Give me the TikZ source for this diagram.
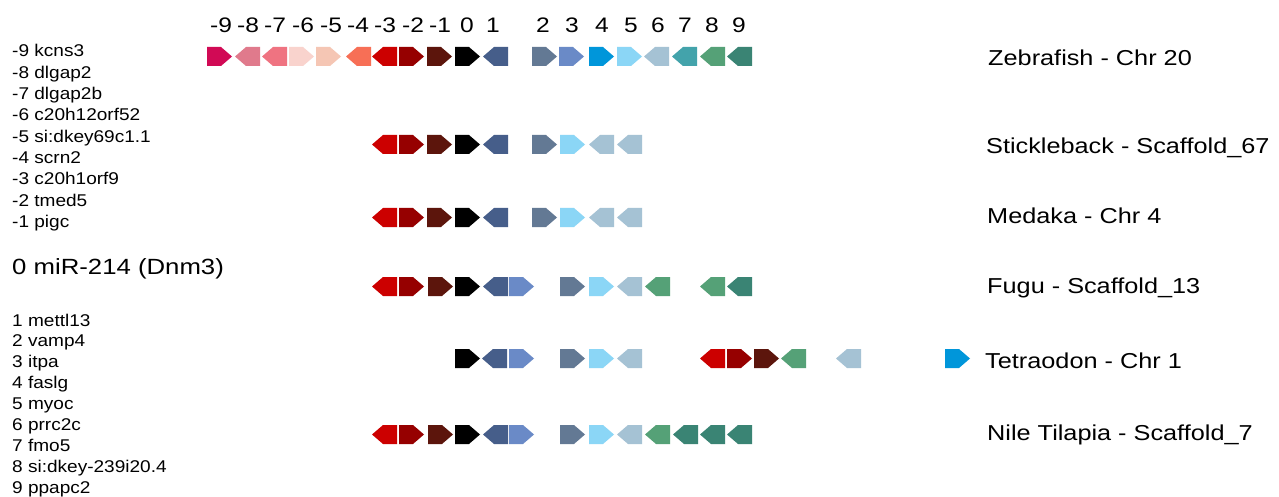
\documentclass[tikz,border=0pt]{standalone}
\usepackage{fontspec}
\setmainfont{Liberation Sans}
\newfontfamily\widefont[FakeStretch=1.17]{Liberation Sans}
\newfontfamily\listfont[FakeStretch=1.12]{Liberation Sans}
\definecolor{gm9}{HTML}{D10A55}
\definecolor{gm8}{HTML}{E07A8C}
\definecolor{gm7}{HTML}{EF7381}
\definecolor{gm6}{HTML}{F9D3CD}
\definecolor{gm5}{HTML}{F5C6B4}
\definecolor{gm4}{HTML}{F76F56}
\definecolor{gm3}{HTML}{CC0000}
\definecolor{gm2}{HTML}{960000}
\definecolor{gm1}{HTML}{5C150C}
\definecolor{g0}{HTML}{000000}
\definecolor{g1}{HTML}{465E8A}
\definecolor{g2}{HTML}{637994}
\definecolor{g3}{HTML}{6A8AC7}
\definecolor{g4}{HTML}{0096DA}
\definecolor{g5}{HTML}{8BD6F6}
\definecolor{g6}{HTML}{A5C2D4}
\definecolor{g7}{HTML}{43A3AB}
\definecolor{g8}{HTML}{55A177}
\definecolor{g9}{HTML}{3A8474}
% right-pointing gene: left edge x, centre y
\newcommand\gR[3]{\fill[#3] (#1,#2) ++(0,-9.5) -- ++(14,0) -- ++(11,9.5) -- ++(-11,9.5) -- ++(-14,0) -- cycle;}
% left-pointing gene: tip at x, centre y
\newcommand\gL[3]{\fill[#3] (#1,#2) -- ++(11,-9.5) -- ++(14,0) -- ++(0,19) -- ++(-14,0) -- cycle;}
\begin{document}
\begin{tikzpicture}[x=1pt,y=-1pt,
  numlbl/.style={font=\widefont\fontsize{21}{25}\selectfont, inner sep=0pt, anchor=base},
  sp/.style={font=\widefont\fontsize{21.6}{25}\selectfont, inner sep=0pt, anchor=base west},
  genelist/.style={font=\listfont\fontsize{17}{20}\selectfont, inner sep=0pt, anchor=base west},
  mirlbl/.style={font=\widefont\fontsize{22}{26}\selectfont, inner sep=0pt, anchor=base west}]
\useasboundingbox (0,0) rectangle (1279,497);
\fill[white] (0,0) rectangle (1279,497);
% position numbers
\node[numlbl] (nm9) at (221,33) {-9};
\node[numlbl] (nm8) at (248,33) {-8};
\node[numlbl] (nm7) at (275,33) {-7};
\node[numlbl] (nm6) at (303,33) {-6};
\node[numlbl] (nm5) at (331,33) {-5};
\node[numlbl] (nm4) at (358,33) {-4};
\node[numlbl] (nm3) at (385,33) {-3};
\node[numlbl] (nm2) at (413,33) {-2};
\node[numlbl] (nm1) at (440,33) {-1};
\node[numlbl] (n0) at (467,33) {0};
\node[numlbl] (n1) at (493,33) {1};
\node[numlbl] (n2) at (543,33) {2};
\node[numlbl] (n3) at (572,33) {3};
\node[numlbl] (n4) at (602,33) {4};
\node[numlbl] (n5) at (631,33) {5};
\node[numlbl] (n6) at (658,33) {6};
\node[numlbl] (n7) at (685,33) {7};
\node[numlbl] (n8) at (712,33) {8};
\node[numlbl] (n9) at (739,33) {9};
% Zebrafish
\def\y{56.5}
\gR{207}{\y}{gm9}\gL{235}{\y}{gm8}\gL{262}{\y}{gm7}\gR{289}{\y}{gm6}\gR{316}{\y}{gm5}
\gL{346}{\y}{gm4}\gL{372}{\y}{gm3}\gR{399}{\y}{gm2}\gR{427}{\y}{gm1}\gR{455}{\y}{g0}
\gL{483}{\y}{g1}\gR{532}{\y}{g2}\gR{559}{\y}{g3}\gR{589}{\y}{g4}\gR{617}{\y}{g5}
\gL{644}{\y}{g6}\gL{672}{\y}{g7}\gL{700}{\y}{g8}\gL{727}{\y}{g9}
% Stickleback
\def\y{144.5}
\gL{372}{\y}{gm3}\gR{399}{\y}{gm2}\gR{427}{\y}{gm1}\gR{455}{\y}{g0}\gL{483}{\y}{g1}
\gR{532}{\y}{g2}\gR{560}{\y}{g5}\gL{589}{\y}{g6}\gL{617}{\y}{g6}
% Medaka
\def\y{217.5}
\gL{372}{\y}{gm3}\gR{399}{\y}{gm2}\gR{427}{\y}{gm1}\gR{455}{\y}{g0}\gL{483}{\y}{g1}
\gR{532}{\y}{g2}\gR{560}{\y}{g5}\gL{589}{\y}{g6}\gL{617}{\y}{g6}
% Fugu
\def\y{286.5}
\gL{372}{\y}{gm3}\gR{399}{\y}{gm2}\gR{428}{\y}{gm1}\gR{455}{\y}{g0}\gL{483}{\y}{g1}
\gR{509}{\y}{g3}\gR{560}{\y}{g2}\gR{589}{\y}{g5}\gL{617}{\y}{g6}\gL{645}{\y}{g8}
\gL{700}{\y}{g8}\gL{727}{\y}{g9}
% Tetraodon
\def\y{358.5}
\gR{455}{\y}{g0}\gL{482}{\y}{g1}\gR{509}{\y}{g3}\gR{560}{\y}{g2}\gR{589}{\y}{g5}
\gL{617}{\y}{g6}\gL{700}{\y}{gm3}\gR{727}{\y}{gm2}\gR{754}{\y}{gm1}\gL{781}{\y}{g8}
\gL{836}{\y}{g6}\gR{945}{\y}{g4}
% Nile Tilapia
\def\y{434.5}
\gL{372}{\y}{gm3}\gR{399}{\y}{gm2}\gR{428}{\y}{gm1}\gR{455}{\y}{g0}\gL{483}{\y}{g1}
\gR{509}{\y}{g3}\gR{560}{\y}{g2}\gR{589}{\y}{g5}\gL{617}{\y}{g6}\gL{645}{\y}{g8}
\gL{673}{\y}{g9}\gL{700}{\y}{g9}\gL{727}{\y}{g9}
% species labels
\node[sp] (zf) at (988,65.5) {Zebrafish - Chr 20};
\node[sp] (st) at (986,153.5) {Stickleback - Scaffold\_67};
\node[sp] (md) at (987,223.5) {Medaka - Chr 4};
\node[sp] (fg) at (987,293.5) {Fugu - Scaffold\_13};
\node[sp] (td) at (985,368.5) {Tetraodon - Chr 1};
\node[sp] (nt) at (987,440.5) {Nile Tilapia - Scaffold\_7};
% gene list
\node[genelist] (lm9) at (12,57) {-9 kcns3};
\node[genelist] (lm8) at (12,78.3) {-8 dlgap2};
\node[genelist] (lm7) at (12,99.6) {-7 dlgap2b};
\node[genelist] (lm6) at (12,120.9) {-6 c20h12orf52};
\node[genelist] (lm5) at (12,142.2) {-5 si:dkey69c1.1};
\node[genelist] (lm4) at (12,163.5) {-4 scrn2};
\node[genelist] (lm3) at (12,184.8) {-3 c20h1orf9};
\node[genelist] (lm2) at (12,206.1) {-2 tmed5};
\node[genelist] (lm1) at (12,227.4) {-1 pigc};
\node[mirlbl] (l0) at (12,274) {0 miR-214 (Dnm3)};
\node[genelist] (l1) at (12,326) {1 mettl13};
\node[genelist] (l2) at (12,346.9) {2 vamp4};
\node[genelist] (l3) at (12,367.8) {3 itpa};
\node[genelist] (l4) at (12,388.7) {4 faslg};
\node[genelist] (l5) at (12,409.6) {5 myoc};
\node[genelist] (l6) at (12,430.5) {6 prrc2c};
\node[genelist] (l7) at (12,451.4) {7 fmo5};
\node[genelist] (l8) at (12,472.3) {8 si:dkey-239i20.4};
\node[genelist] (l9) at (12,493.2) {9 ppapc2};
\end{tikzpicture}
\end{document}
